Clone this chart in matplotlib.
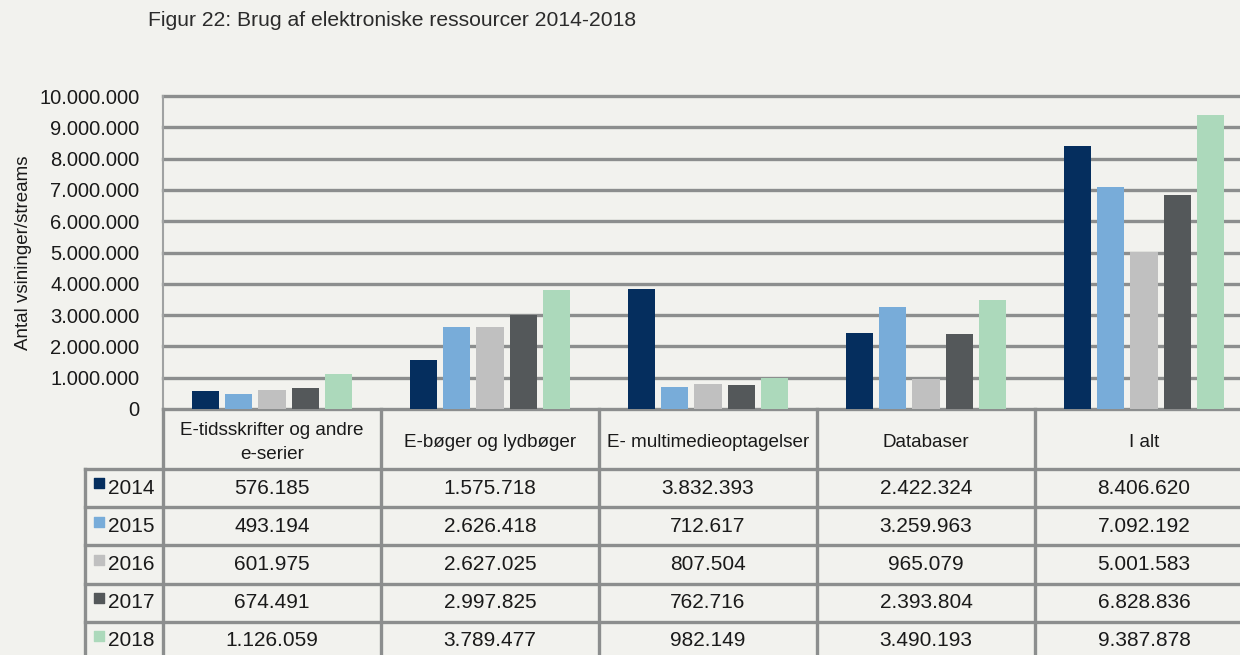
import numpy as np
import matplotlib
matplotlib.use('Agg')
from matplotlib import pyplot as plt
from matplotlib.ticker import FuncFormatter

# data
categories = ['E-tidsskrifter og andre\ne-serier', 'E-bøger og lydbøger',
              'E- multimedieoptagelser', 'Databaser', 'I alt']
years = ['2014', '2015', '2016', '2017', '2018']
v2014 = [576185, 1575718, 3832393, 2422324, 8406620]
v2015 = [493194, 2626418, 712617, 3259963, 7092192]
v2016 = [601975, 2627025, 807504, 965079, 5001583]
v2017 = [674491, 2997825, 762716, 2393804, 6828836]
v2018 = [1126059, 3789477, 982149, 3490193, 9387878]
series = [v2014, v2015, v2016, v2017, v2018]
colors = ['#052e5e', '#78acd9', '#c0c0c0', '#54585a', '#acd9bb']

bg = '#f2f2ee'
linec = '#8c8e8e'
txt = '#1a1a1a'
plt.rcParams['font.family'] = ['Liberation Sans', 'DejaVu Sans']


def dk(n):
    return f'{n:,.0f}'.replace(',', '.')


W, H = 1240, 655
fig = plt.figure(figsize=(W / 100, H / 100), dpi=100, facecolor=bg)

# main bar axes
ax = fig.add_axes([163 / W, 1 - 409 / H, (W - 163) / W, (409 - 96) / H])
ax.set_facecolor(bg)
x = np.arange(len(categories))
step = 0.153
bw = 0.124
for i, (vals, c) in enumerate(zip(series, colors)):
    ax.bar(x + (i - 2) * step, vals, width=bw, color=c, zorder=3)

ax.set_xlim(-0.5, -0.5 + (W - 163) / 218)
ax.set_ylim(0, 10_000_000)
ax.set_yticks(np.arange(0, 10_000_001, 1_000_000))
ax.yaxis.set_major_formatter(FuncFormatter(lambda v, p: dk(v)))
ax.tick_params(axis='y', length=0, labelsize=14.5, colors=txt, pad=17)
ax.set_xticks([])
ax.grid(axis='y', color=linec, linewidth=2.4)
for gl in ax.get_ygridlines():
    gl.set_clip_on(False)
for s in ['top', 'right', 'bottom']:
    ax.spines[s].set_visible(False)
ax.spines['left'].set_color('#a0a2a2')
ax.spines['left'].set_linewidth(1.5)
ax.set_ylabel('Antal vsininger/streams', fontsize=13.5, color=txt, labelpad=5)

fig.text(148 / W, 1 - 21 / H, 'Figur 22: Brug af elektroniske ressourcer 2014-2018',
         fontsize=15.2, color='#2b2b2b', va='center', ha='left')

# data table below (y in row units, header is taller)
hdr = 1.57
tax = fig.add_axes([163 / W, 1 - 660 / H, (W - 163) / W, 251 / H])
tax.set_xlim(ax.get_xlim())
tax.set_ylim(hdr + len(years), 0)
tax.axis('off')
left = -0.5 - 78 / 218
lw = 2.4
for b in np.arange(-0.5, len(categories), 1.0):
    tax.plot([b, b], [0, hdr + len(years)], color=linec, lw=lw, clip_on=False)
tax.plot([left, left], [hdr, hdr + len(years)], color=linec, lw=lw, clip_on=False)
for r in range(len(years) + 1):
    tax.plot([left, tax.get_xlim()[1]], [hdr + r, hdr + r], color=linec, lw=lw,
             clip_on=False)

for j, cat in enumerate(categories):
    tax.text(j, hdr / 2 + 0.09, cat, ha='center', va='center', fontsize=13.6,
             color=txt, linespacing=1.6)

for i, (yr, vals, c) in enumerate(zip(years, series, colors)):
    yc = hdr + i + 0.5
    tax.scatter([left + 14 / 218], [yc - 0.12], marker='s', s=60, color=c,
                clip_on=False, zorder=3)
    tax.text(left + 23 / 218, yc, yr, ha='left', va='center', fontsize=15,
             color=txt)
    for j, v in enumerate(vals):
        tax.text(j, yc, dk(v), ha='center', va='center', fontsize=15, color=txt)

fig.savefig('out.png', dpi=100, facecolor=bg)
